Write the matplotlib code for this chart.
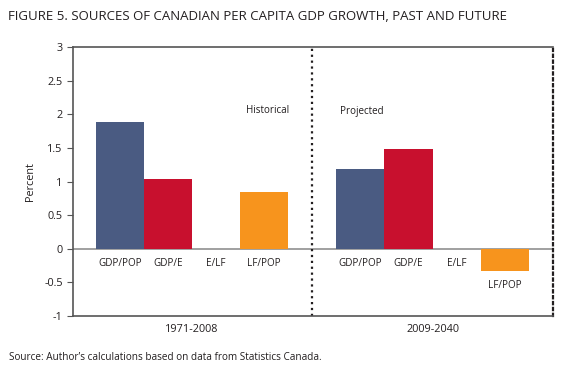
import matplotlib
matplotlib.use("Agg")
import matplotlib.pyplot as plt
import numpy as np

plt.rcParams["font.family"] = ["Open Sans", "DejaVu Sans"]

# ---- data -----------------------------------------------------------------
components = ["GDP/POP", "GDP/E", "E/LF", "LF/POP"]
historical = [1.88, 1.03, 0.0, 0.85]   # 1971-2008
projected = [1.18, 1.48, -0.01, -0.33]  # 2009-2040
periods = ["1971-2008", "2009-2040"]
colors = ["#4a5b82", "#c8102e", "#808080", "#f7941d"]
INK = "#231f20"

fig = plt.figure(figsize=(5.66, 3.74), dpi=100)
ax = fig.add_axes([73 / 566, 1 - 316 / 374, (553 - 73) / 566, (316 - 47) / 374])

x_hist = np.arange(len(components))
x_proj = x_hist + len(components) + 1
ax.bar(x_hist, historical, width=1.0, color=colors)
ax.bar(x_proj, projected, width=1.0, color=colors)

ax.set_xlim(-0.97, 9.0)
ax.set_ylim(-1, 3)
ax.set_yticks(np.arange(-1, 3.01, 0.5))
ax.set_yticklabels([f"{v:g}" for v in np.arange(-1, 3.01, 0.5)], fontsize=7.8, color=INK)
ax.set_xticks([])
ax.tick_params(axis="y", direction="out", length=4, color="#555555")
ax.set_ylabel("Percent", fontsize=7.8, color=INK, labelpad=6)

ax.axhline(0, color="#999999", lw=1.3, zorder=0)
for side in ("left", "bottom", "top"):
    ax.spines[side].set_color("#555555")
    ax.spines[side].set_linewidth(1.2)
ax.spines["right"].set_linestyle(":")
ax.spines["right"].set_linewidth(1.6)
ax.spines["right"].set_color(INK)
ax.axvline(4.0, color=INK, ls=":", lw=1.6)

# component labels below the zero line (or below negative bars)
for xs, vals in ((x_hist, historical), (x_proj, projected)):
    for x, v, lab in zip(xs, vals, components):
        y = min(v, 0) - 0.22 if v < -0.1 else -0.22
        ax.text(x, y, lab, ha="center", va="center", fontsize=7.1, color=INK)

ax.text(3.07, 2.06, "Historical", ha="center", va="center", fontsize=7.1, color=INK)
ax.text(5.03, 2.04, "Projected", ha="center", va="center", fontsize=7.1, color=INK)

# period labels under the axis
for xc, lab in ((1.5, periods[0]), (6.5, periods[1])):
    ax.text(xc, -1.12, lab, ha="center", va="top", fontsize=7.8, color=INK)

fig.text(8 / 566, 1 - 16 / 374, "FIGURE 5. SOURCES OF CANADIAN PER CAPITA GDP GROWTH, PAST AND FUTURE",
         ha="left", va="center", fontsize=9.5, color=INK)
fig.text(9 / 566, 1 - 357 / 374, "Source: Author\u2019s calculations based on data from Statistics Canada.",
         ha="left", va="center", fontsize=7.2, color=INK)

fig.savefig("out.png", dpi=100, facecolor="white")
